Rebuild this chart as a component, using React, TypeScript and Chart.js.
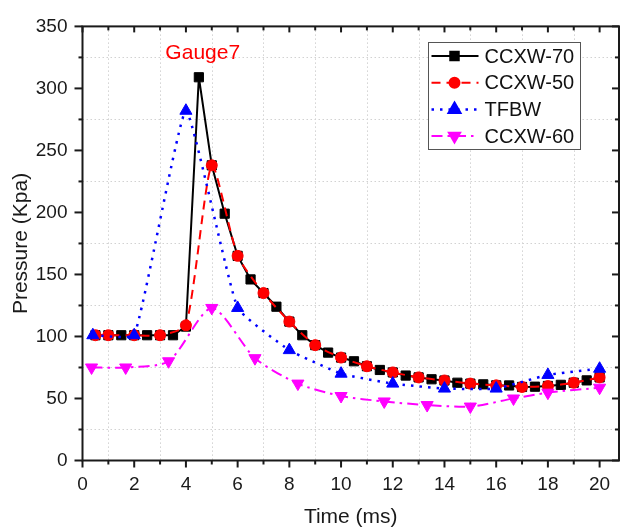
import React, { useEffect, useRef } from 'react';
import { Chart, registerables } from 'chart.js';
import { drawPoint } from 'chart.js/helpers';

Chart.register(...registerables);

// ---------- data ----------
const X_TICKS = [0, 2, 4, 6, 8, 10, 12, 14, 16, 18, 20];
const Y_TICKS = [0, 50, 100, 150, 200, 250, 300, 350];
const X_TITLE = 'Time (ms)';
const Y_TITLE = 'Pressure (Kpa)';
const ANNOTATION_TEXT = 'Gauge7';
const ANNOTATION_AT = [4.65, 328];
const SERIES_NAMES = ['CCXW-70', 'CCXW-50', 'TFBW', 'CCXW-60'];

const CCXW70_T = [0.5, 1, 1.5, 2, 2.5, 3, 3.5, 4, 4.5, 5, 5.5, 6, 6.5, 7, 7.5, 8, 8.5, 9, 9.5, 10, 10.5, 11, 11.5, 12, 12.5, 13, 13.5, 14, 14.5, 15, 15.5, 16, 16.5, 17, 17.5, 18, 18.5, 19, 19.5, 20];
const CCXW70_P = [101, 101, 101, 101, 101, 101, 101, 108, 309, 238, 199, 165, 146, 135, 124, 112, 101, 93, 87, 83, 80, 76, 73, 71, 68.5, 67, 65.5, 64.5, 62.7, 62, 61.4, 60.6, 60.5, 59.3, 59.5, 60.1, 61, 62.7, 64.6, 67];

const CCXW50_T = [0.5, 1, 2, 3, 4, 5, 6, 7, 8, 9, 10, 11, 12, 13, 14, 15, 16, 17, 18, 19, 20];
const CCXW50_P = [101, 101, 101, 101, 109, 238, 165, 135, 112, 93, 83, 76, 71, 67, 64.5, 62, 60.6, 59.3, 60, 62.7, 67];

const TFBW_T = [0.4, 2, 4, 6, 8, 10, 12, 14, 16, 18, 20];
const TFBW_P = [101, 101, 282, 123, 89, 70, 62, 58, 58, 69, 74];

const CCXW60_T = [0.35, 1.67, 3.33, 5, 6.67, 8.33, 10, 11.67, 13.33, 15, 16.67, 18, 20];
const CCXW60_P = [75, 75, 80, 123, 82.5, 62, 52, 47.6, 44.7, 43.5, 50, 54.7, 58.7];

const FONT = "'Liberation Sans', Arial, sans-serif";

const zip = (xs: number[], ys: number[]) => xs.map((x, i) => ({ x, y: ys[i] }));

function minorValues(ticks: number[]) {
  const out: number[] = [];
  for (let i = 0; i < ticks.length - 1; i++) out.push((ticks[i] + ticks[i + 1]) / 2);
  return out;
}

const decorPlugin = {
  id: 'decor',
  beforeDatasetsDraw(chart: any) {
    const { ctx, chartArea: a, scales } = chart;
    const xs = scales.x, ys = scales.y;
    ctx.save();
    ctx.strokeStyle = '#d2d2d2';
    ctx.lineWidth = 1;
    ctx.setLineDash([1.5, 2.5]);
    for (const v of minorValues(X_TICKS)) {
      const px = Math.round(xs.getPixelForValue(v)) + 0.5;
      ctx.beginPath(); ctx.moveTo(px, a.top); ctx.lineTo(px, a.bottom); ctx.stroke();
    }
    for (const v of minorValues(Y_TICKS)) {
      const py = Math.round(ys.getPixelForValue(v)) + 0.5;
      ctx.beginPath(); ctx.moveTo(a.left, py); ctx.lineTo(a.right, py); ctx.stroke();
    }
    ctx.restore();
  },
  afterDatasetsDraw(chart: any) {
    const { ctx, chartArea: a, scales } = chart;
    const xs = scales.x, ys = scales.y;
    ctx.save();
    ctx.setLineDash([]);
    ctx.strokeStyle = '#1a1a1a';
    ctx.lineWidth = 2;
    ctx.strokeRect(a.left, a.top, a.right - a.left, a.bottom - a.top);
    const xMaj = X_TICKS, xMin = minorValues(X_TICKS);
    const yMaj = Y_TICKS, yMin = minorValues(Y_TICKS);
    const seg = (x1: number, y1: number, x2: number, y2: number) => {
      ctx.beginPath(); ctx.moveTo(x1, y1); ctx.lineTo(x2, y2); ctx.stroke();
    };
    for (const v of xMaj) {
      const px = xs.getPixelForValue(v);
      seg(px, a.bottom, px, a.bottom + 7);
      seg(px, a.top, px, a.top + 6);
    }
    for (const v of xMin) {
      const px = xs.getPixelForValue(v);
      seg(px, a.bottom, px, a.bottom + 4);
      seg(px, a.top, px, a.top + 4);
    }
    for (const v of yMaj) {
      const py = ys.getPixelForValue(v);
      seg(a.left - 8, py, a.left, py);
      seg(a.right - 7, py, a.right, py);
    }
    for (const v of yMin) {
      const py = ys.getPixelForValue(v);
      seg(a.left - 4, py, a.left, py);
      seg(a.right - 4, py, a.right, py);
    }

    // annotation
    ctx.fillStyle = '#ff0000';
    ctx.font = `21px ${FONT}`;
    ctx.textAlign = 'center';
    ctx.textBaseline = 'middle';
    ctx.fillText(ANNOTATION_TEXT, xs.getPixelForValue(ANNOTATION_AT[0]), ys.getPixelForValue(ANNOTATION_AT[1]));

    // legend
    const bx = 428.5, by = 42.5, bw = 152, bh = 107;
    ctx.fillStyle = '#ffffff';
    ctx.fillRect(bx, by, bw, bh);
    ctx.strokeStyle = '#555555';
    ctx.lineWidth = 1;
    ctx.strokeRect(bx, by, bw, bh);
    const ds = chart.data.datasets;
    for (let i = 0; i < ds.length; i++) {
      const d = ds[i];
      const ry = 56 + i * 26.7;
      ctx.save();
      ctx.strokeStyle = d.borderColor;
      ctx.lineWidth = d.borderWidth;
      ctx.setLineDash(d.borderDash || []);
      ctx.beginPath(); ctx.moveTo(bx + 3, ry); ctx.lineTo(bx + 50, ry); ctx.stroke();
      ctx.setLineDash([]);
      ctx.fillStyle = d.pointBackgroundColor;
      ctx.strokeStyle = d.pointBorderColor;
      drawPoint(ctx, { pointStyle: d.pointStyle, rotation: d.pointRotation || 0, radius: d.pointRadius - 0.5, borderWidth: 1 } as any, bx + 26, ry);
      ctx.restore();
      ctx.fillStyle = '#111111';
      ctx.font = `20px ${FONT}`;
      ctx.textAlign = 'left';
      ctx.textBaseline = 'middle';
      ctx.fillText(d.label, bx + 56, ry + 1);
    }
    ctx.restore();
  },
};

export default function App() {
  const ref = useRef<HTMLCanvasElement | null>(null);
  useEffect(() => {
    if (!ref.current) return;
    const common = { borderWidth: 2, pointBorderWidth: 1, fill: false };
    const chart = new Chart(ref.current, {
      type: 'line',
      data: {
        datasets: [
          {
            ...common,
            label: SERIES_NAMES[0],
            data: zip(CCXW70_T, CCXW70_P),
            borderColor: '#000000',
            pointBackgroundColor: '#000000',
            pointBorderColor: '#000000',
            pointStyle: 'rect',
            pointRadius: 6.5,
            tension: 0,
            order: 4,
          },
          {
            ...common,
            label: SERIES_NAMES[1],
            data: zip(CCXW50_T, CCXW50_P),
            borderColor: '#ff0000',
            borderDash: [9, 6],
            pointBackgroundColor: '#ff0000',
            pointBorderColor: '#ff0000',
            pointStyle: 'circle',
            pointRadius: 5.5,
            tension: 0.2,
            order: 3,
          },
          {
            ...common,
            borderWidth: 2.5,
            label: SERIES_NAMES[2],
            data: zip(TFBW_T, TFBW_P),
            borderColor: '#0000ff',
            borderDash: [2.5, 6],
            pointBackgroundColor: '#0000ff',
            pointBorderColor: '#0000ff',
            pointStyle: 'triangle',
            pointRadius: 7,
            tension: 0.12,
            order: 2,
          },
          {
            ...common,
            label: SERIES_NAMES[3],
            data: zip(CCXW60_T, CCXW60_P),
            borderColor: '#ff00ff',
            borderDash: [11, 5, 2.5, 5],
            pointBackgroundColor: '#ff00ff',
            pointBorderColor: '#ff00ff',
            pointStyle: 'triangle',
            pointRotation: 180,
            pointRadius: 7,
            tension: 0.25,
            order: 1,
          },
        ] as any,
      },
      options: {
        responsive: false,
        animation: false,
        devicePixelRatio: 1,
        layout: { padding: { top: 20, right: 6, left: 0, bottom: 0 } },
        plugins: { legend: { display: false }, tooltip: { enabled: false } },
        scales: {
          x: {
            type: 'linear',
            min: 0,
            max: 20.75,
            afterBuildTicks: (s: any) => { s.ticks = X_TICKS.map((v) => ({ value: v })); },
            afterFit: (s: any) => { s.height = 69.5; },
            grid: { display: false, drawTicks: false, tickLength: 0 },
            border: { display: false },
            ticks: { font: { family: FONT, size: 19 }, color: '#1a1a1a', padding: 13, maxRotation: 0, autoSkip: false },
            title: { display: true, text: X_TITLE, font: { family: FONT, size: 21 }, color: '#1a1a1a', padding: { top: 0, bottom: 0 } },
          },
          y: {
            type: 'linear',
            min: 0,
            max: 350,
            afterBuildTicks: (s: any) => { s.ticks = Y_TICKS.map((v) => ({ value: v })); },
            afterFit: (s: any) => { s.width = 82.5; },
            grid: { display: false, drawTicks: false, tickLength: 0 },
            border: { display: false },
            ticks: { font: { family: FONT, size: 19 }, color: '#1a1a1a', padding: 15, autoSkip: false },
            title: { display: true, text: Y_TITLE, font: { family: FONT, size: 21 }, color: '#1a1a1a', padding: { top: 9, bottom: 0 } },
          },
        },
      } as any,
      plugins: [decorPlugin],
    });
    return () => chart.destroy();
  }, []);
  return (
    <div style={{ position: 'absolute', left: 0, top: 0, width: 627, height: 530, background: '#fff' }}>
      <canvas ref={ref} width={627} height={530} style={{ display: 'block' }} />
    </div>
  );
}
